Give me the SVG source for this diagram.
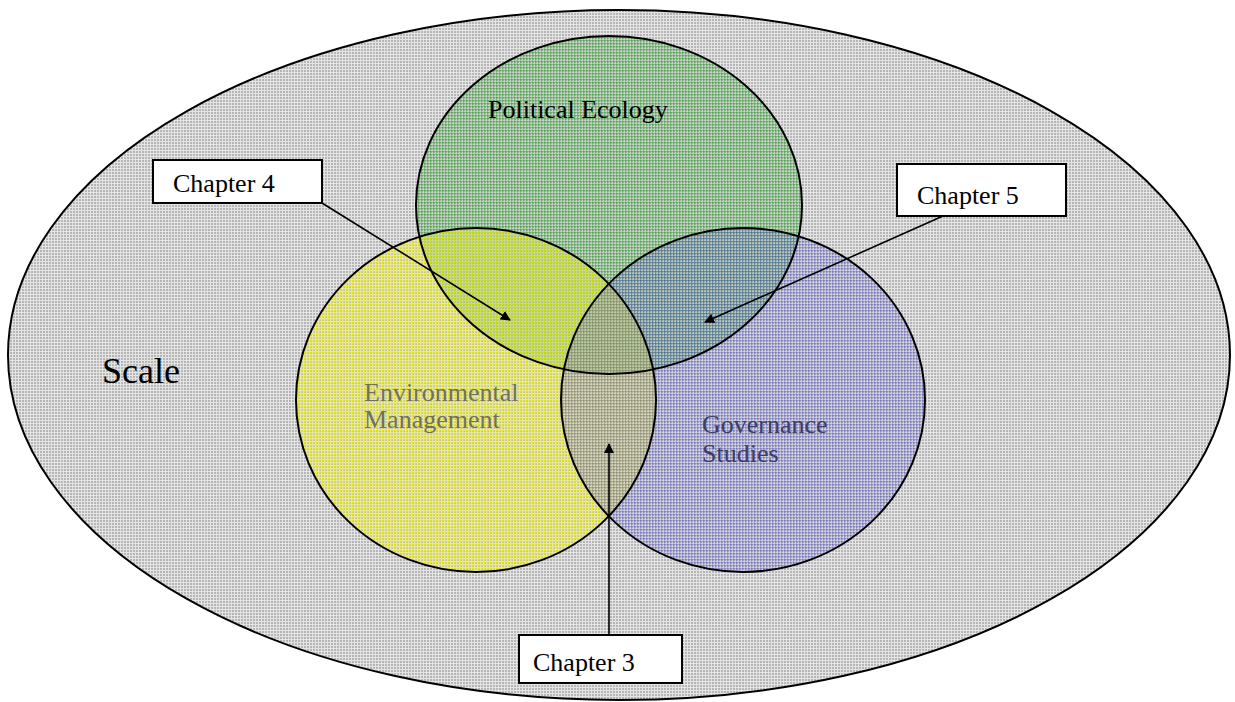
<svg xmlns="http://www.w3.org/2000/svg" width="1235" height="702" viewBox="0 0 1235 702">
  <style>
    .ring { fill: none; stroke: #000; stroke-width: 2; }
    .box { fill: #fff; stroke: #000; stroke-width: 2; }
    .serif { font-family: "Liberation Serif", "Times New Roman", serif; font-size: 26px; }
    .dark { fill: #000; }
    .env { fill: #707062; }
    .gov { fill: #3c3c66; }
    .conn { stroke: #000; stroke-width: 1.6; fill: none; marker-end: url(#head); }
  </style>
  <defs>
    <!-- grey plaid for the outer field -->
    <pattern id="greyPlaid" width="3" height="3" patternUnits="userSpaceOnUse">
      <rect width="3" height="3" fill="#b6b6b6"/>
      <rect x="0" y="0" width="3" height="1" fill="#e4e4e4"/>
      <rect x="0" y="0" width="1" height="3" fill="#e4e4e4"/>
    </pattern>
    <!-- coloured plaids for the three fields (translucent so overlaps blend) -->
    <pattern id="greenPlaid" width="3" height="3" patternUnits="userSpaceOnUse">
      <rect width="3" height="3" fill="#3c9c3c" fill-opacity="0.2"/>
      <rect x="0" y="1" width="3" height="1" fill="#3ca03c" fill-opacity="0.42"/>
      <rect x="1" y="0" width="1" height="3" fill="#3ca03c" fill-opacity="0.42"/>
    </pattern>
    <pattern id="yellowPlaid" width="3" height="3" patternUnits="userSpaceOnUse">
      <rect width="3" height="3" fill="#eeee30" fill-opacity="0.22"/>
      <rect x="0" y="1" width="3" height="1" fill="#f2f200" fill-opacity="0.45"/>
      <rect x="1" y="0" width="1" height="3" fill="#f2f200" fill-opacity="0.45"/>
    </pattern>
    <pattern id="bluePlaid" width="3" height="3" patternUnits="userSpaceOnUse">
      <rect width="3" height="3" fill="#5050c0" fill-opacity="0.13"/>
      <rect x="0" y="1" width="3" height="1" fill="#5050c8" fill-opacity="0.3"/>
      <rect x="1" y="0" width="1" height="3" fill="#5050c8" fill-opacity="0.3"/>
    </pattern>
    <marker id="head" viewBox="0 0 10 10" refX="9" refY="5" markerWidth="10" markerHeight="10" orient="auto" markerUnits="userSpaceOnUse">
      <path d="M0,0 L10,5 L0,10 z" fill="#000"/>
    </marker>
  </defs>

  <rect width="1235" height="702" fill="#fff"/>

  <!-- outer field: Scale -->
  <g id="scale">
    <ellipse class="ring" cx="619" cy="355" rx="611" ry="345" style="fill:url(#greyPlaid)"/>
    <text class="serif dark" x="102" y="383" style="font-size:36px">Scale</text>
  </g>

  <!-- the three overlapping fields -->
  <g id="political-ecology">
    <ellipse cx="609" cy="205" rx="193" ry="169" fill="url(#greenPlaid)"/>
  </g>
  <g id="environmental-management">
    <ellipse cx="476" cy="400" rx="180" ry="172" fill="url(#yellowPlaid)"/>
  </g>
  <g id="governance-studies">
    <ellipse cx="743" cy="400" rx="182" ry="172" fill="url(#bluePlaid)"/>
  </g>

  <!-- outlines on top of all fills -->
  <ellipse class="ring" cx="609" cy="205" rx="193" ry="169"/>
  <ellipse class="ring" cx="476" cy="400" rx="180" ry="172"/>
  <ellipse class="ring" cx="743" cy="400" rx="182" ry="172"/>

  <!-- field labels -->
  <text class="serif dark" x="488" y="118">Political Ecology</text>
  <text class="serif env" x="364" y="401">Environmental</text>
  <text class="serif env" x="364" y="428">Management</text>
  <text class="serif gov" x="702" y="433">Governance</text>
  <text class="serif gov" x="702" y="462">Studies</text>

  <!-- connectors -->
  <g id="connectors">
    <line class="conn" x1="322" y1="203" x2="510" y2="320"/>
    <line class="conn" x1="943" y1="216" x2="705" y2="322"/>
    <line class="conn" x1="609" y1="635" x2="609" y2="444"/>
  </g>

  <!-- chapter callouts -->
  <g id="chapter-4">
    <rect class="box" x="153" y="160" width="169" height="43"/>
    <text class="serif dark" x="173" y="192">Chapter 4</text>
  </g>
  <g id="chapter-5">
    <rect class="box" x="897" y="164" width="169" height="52"/>
    <text class="serif dark" x="917" y="204">Chapter 5</text>
  </g>
  <g id="chapter-3">
    <rect class="box" x="519" y="635" width="163" height="48"/>
    <text class="serif dark" x="533" y="671">Chapter 3</text>
  </g>
</svg>
